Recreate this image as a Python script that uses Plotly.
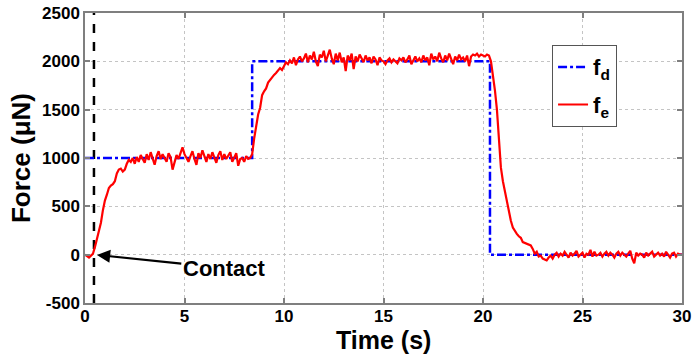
import plotly.graph_objects as go
import numpy as np

# ---- data ----
time_step = 0.1
fe_values = [
    0, -15, -30, -10, 10, 80, 160, 230, 330, 460,
    560, 620, 690, 715, 730, 760, 840, 880, 890, 860,
    880, 940, 980, 960, 1000, 940, 1010, 960, 1030, 990,
    950, 1040, 980, 1060, 1000, 930, 1020, 1070, 990, 1040,
    1000, 960, 1050, 1010, 880, 960, 1030, 990, 1060, 1110,
    1040, 1000, 960, 1020, 1070, 990, 930, 1050, 1000, 1080,
    1010, 960, 1040, 990, 1060, 1000, 950, 1030, 1070, 980,
    1040, 990, 1020, 1060, 960, 1010, 1050, 920, 990, 1000,
    960, 1020, 990, 1000, 1040, 1200, 1350, 1450, 1520, 1650,
    1690, 1720, 1780, 1810, 1830, 1860, 1880, 1900, 1930, 1910,
    1960, 1990, 1970, 2010, 1980, 2040, 1960, 2020, 2050, 2000,
    2030, 2080, 1990, 2060, 2020, 2100, 2000, 1950, 2070, 2040,
    2110, 2000, 2060, 2120, 2030, 1970, 2080, 2010, 2090, 1990,
    2040, 1900, 2060, 2010, 2080, 1920, 2050, 2000, 2070, 2030,
    1990, 2060, 2010, 2040, 1980, 2050, 2020, 1960, 2040, 2010,
    2000, 1970, 2010, 2030, 1990, 2020, 2000, 1980, 2030, 2010,
    2040, 1990, 2020, 2060, 1970, 2010, 2050, 2000, 2030, 1990,
    2060, 2010, 2040, 1960, 2080, 2020, 2050, 2000, 2090, 2030,
    1990, 2060, 2010, 2080, 2030, 1970, 2050, 2010, 2070, 2020,
    2040, 2000, 2060, 1950, 2050, 2070, 2060, 2080, 2050, 2070,
    2060, 2050, 2070, 2060, 2000, 1870, 1700, 1500, 1150, 900,
    760, 650, 540, 430, 350, 280, 240, 215, 190, 175,
    130, 120, 110, 100, 95, 60, 10, 30, -20, -10,
    -40, -50, -60, -30, -10, -40, 0, 20, -20, 10,
    -10, 30, 0, -30, 20, -10, 10, 40, -20, 0,
    20, -30, 10, 0, 50, -20, 30, -10, 0, 20,
    -20, 10, 30, -10, 20, 0, -30, 10, 30, -10,
    20, 0, -20, 10, 40, -40, -90, 20, -10, 10,
    0, -30, 20, -10, 10, 30, -20, 0, 20, -10,
    10, -20, 30, 0, -30, 10, 20, -20, 10, 0,
    0,
]
fe_time = [round(i * time_step, 1) for i in range(len(fe_values))]

fd_time = [0, 8.4, 8.4, 20.35, 20.35, 30]
fd_values = [1000, 1000, 2000, 2000, 0, 0]

contact_time = 0.45
contact_label = "Contact"
contact_text_pos = (7.0, -140)
contact_point = (0.5, 0)

x_ticks = [0, 5, 10, 15, 20, 25, 30]
y_ticks = [-500, 0, 500, 1000, 1500, 2000, 2500]

x_title = "Time (s)"
y_title = "Force (μN)"

FONT = "Arial, 'Liberation Sans', sans-serif"

fig = go.Figure()
fig.add_trace(go.Scatter(
    x=[contact_time, contact_time], y=[-500, 2500], mode="lines",
    line=dict(color="black", width=2.5, dash="dash"), showlegend=False, hoverinfo="skip"))
fig.add_trace(go.Scatter(
    x=fd_time, y=fd_values, mode="lines", name="<b>f<sub>d</sub></b>",
    line=dict(color="#0000ff", width=2.5, dash="dashdot"), legendgroup="a"))
fig.add_trace(go.Scatter(
    x=fe_time, y=fe_values, mode="lines", name="<b>f<sub>e</sub></b>",
    line=dict(color="#ff0000", width=2.2), legendgroup="b"))

axis_common = dict(
    showline=True, linecolor="#7f7f7f", linewidth=1.5, mirror="ticks",
    ticks="inside", ticklen=5, tickcolor="#7f7f7f", tickwidth=1.5,
    showgrid=True, gridcolor="#c4c4c4", griddash="dot", gridwidth=1,
    zeroline=False, automargin=False,
    tickfont=dict(family=FONT, size=17, color="black", weight="bold"),
)

fig.update_xaxes(range=[0, 30], tickvals=x_ticks, ticktext=[str(v) for v in x_ticks],
                 ticklabelstandoff=-3, **axis_common)
fig.update_yaxes(range=[-500, 2500], tickvals=y_ticks, ticktext=[str(v) for v in y_ticks],
                 title=dict(text="<b>" + y_title + "</b>", font=dict(family=FONT, size=26, color="black"), standoff=4),
                 **axis_common)

# x-axis title placed at the bottom edge of the figure
fig.add_annotation(
    x=0.5, y=0, xref="paper", yref="paper", yanchor="bottom", xanchor="center",
    yshift=-52, showarrow=False, borderpad=0,
    text="<b>" + x_title + "</b>", font=dict(family=FONT, size=25, color="black"))

fig.add_annotation(
    x=contact_point[0], y=contact_point[1], ax=contact_text_pos[0], ay=contact_text_pos[1],
    axref="x", ayref="y", xref="x", yref="y",
    text="<b>" + contact_label + "</b>", showarrow=True, arrowhead=2, arrowsize=1.2,
    arrowwidth=2.2, arrowcolor="black",
    font=dict(family=FONT, size=22, color="black"), standoff=2)

fig.update_layout(
    width=699, height=354,
    margin=dict(l=85, r=17, t=13, b=51),
    paper_bgcolor="white", plot_bgcolor="white",
    showlegend=True,
    legend=dict(x=0.782, y=0.89, xanchor="left", yanchor="top",
                bgcolor="white", bordercolor="#555555", borderwidth=1.2,
                font=dict(family=FONT, size=22, color="black"),
                tracegroupgap=6, traceorder="grouped"),
)

fig.write_html("out.html")
